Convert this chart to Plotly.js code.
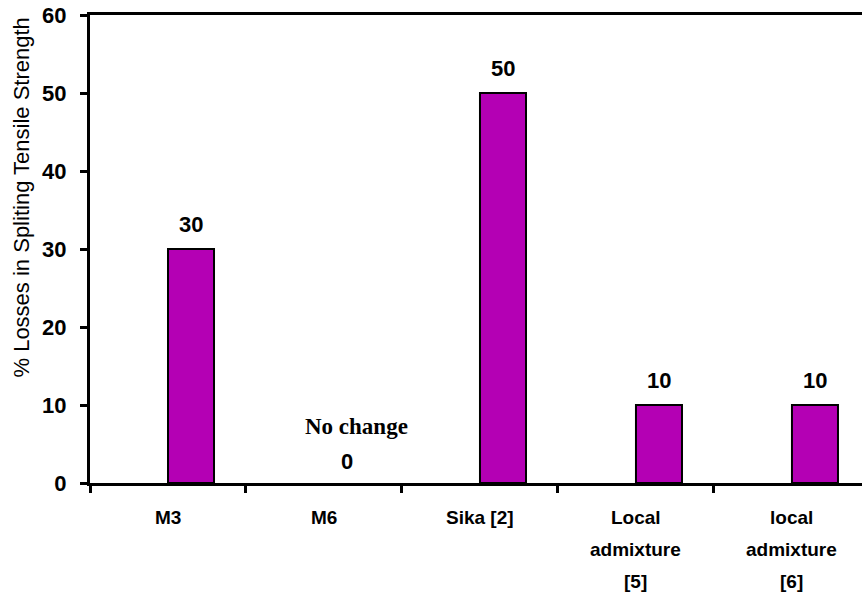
<!DOCTYPE html>
<html>
<head>
<meta charset="utf-8">
<script src="https://cdn.plot.ly/plotly-3.0.1.min.js"></script>
<style>html,body{margin:0;padding:0;background:#fff;}#chart{width:862px;height:597px;}</style>
</head>
<body>
<div id="chart"></div>
<script>
// ---- data ----
var categories = ["M3", "M6", "Sika [2]", "Local\nadmixture\n[5]", "local\nadmixture\n[6]"];
var lossValues = [30, 0, 50, 10, 10];
var valueLabels = ["30", "0", "50", "10", "10"];
var yTickValues = [0, 10, 20, 30, 40, 50, 60];
var yTitle = "% Losses in Spliting Tensile Strength";
var noChangeNote = "No change";

// ---- drawing ----
var xIdx = categories.map(function (c, i) { return i; });
var barWidth = 0.295;

var barTrace = {
  type: "bar",
  x: xIdx,
  y: lossValues,
  width: barWidth,
  offset: 0,
  marker: {
    color: "#B400B4",
    line: { color: "#000000", width: lossValues.map(function (v) { return v > 0 ? 2 : 0; }) }
  },
  hoverinfo: "x+y",
  showlegend: false
};

var annotations = [];
// value labels above bars
lossValues.forEach(function (v, i) {
  annotations.push({
    x: i + barWidth / 2, xref: "x", y: v, yref: "y",
    text: "<b>" + valueLabels[i] + "</b>", showarrow: false,
    yanchor: "middle", yshift: v === 0 ? 22 : 25,
    font: { family: "Arial, Liberation Sans, sans-serif", size: 22, color: "#000" }
  });
  if (v === 0) {
    annotations.push({
      x: i + barWidth / 2, xref: "x", y: v, yref: "y",
      text: "<b>" + noChangeNote + "</b>", showarrow: false,
      yanchor: "middle", yshift: 57, xshift: 9,
      font: { family: "Liberation Serif, Times New Roman, serif", size: 23, color: "#000" }
    });
  }
});
// category labels (multi-line)
categories.forEach(function (c, i) {
  c.split("\n").forEach(function (line, j) {
    annotations.push({
      x: i, xref: "x", y: 0, yref: "paper",
      text: "<b>" + line + "</b>", showarrow: false,
      yanchor: "middle", yshift: -34 - 32 * j,
      font: { family: "Arial, Liberation Sans, sans-serif", size: 19, color: "#000" }
    });
  });
});
// y-axis title
annotations.push({
  x: 0, xref: "paper", xshift: -68, y: 0.61, yref: "paper",
  text: yTitle, textangle: -90, showarrow: false,
  xanchor: "center", yanchor: "middle",
  font: { family: "Arial, Liberation Sans, sans-serif", size: 22, color: "#000" }
});

var layout = {
  width: 862, height: 597,
  margin: { l: 90, r: 0, t: 15, b: 114 },
  paper_bgcolor: "#fff", plot_bgcolor: "#fff",
  showlegend: false,
  xaxis: {
    type: "linear",
    range: [-0.5, 4.449],
    tickvals: [-0.5, 0.5, 1.5, 2.5, 3.5],
    showticklabels: false,
    ticks: "outside", ticklen: 7, tickwidth: 3, tickcolor: "#000",
    showline: true, linewidth: 3, linecolor: "#000", mirror: true,
    showgrid: false, zeroline: false, fixedrange: true
  },
  yaxis: {
    range: [0, 60],
    tickvals: yTickValues,
    ticks: "outside", ticklen: 7, tickwidth: 3, tickcolor: "#000",
    ticklabelstandoff: 9,
    tickfont: { family: "Arial, Liberation Sans, sans-serif", size: 22, color: "#000", weight: "bold" },
    showline: true, linewidth: 3, linecolor: "#000",
    showgrid: false, zeroline: false, fixedrange: true
  },
  annotations: annotations
};

Plotly.newPlot("chart", [barTrace], layout, { displayModeBar: false, staticPlot: true });
</script>
</body>
</html>
